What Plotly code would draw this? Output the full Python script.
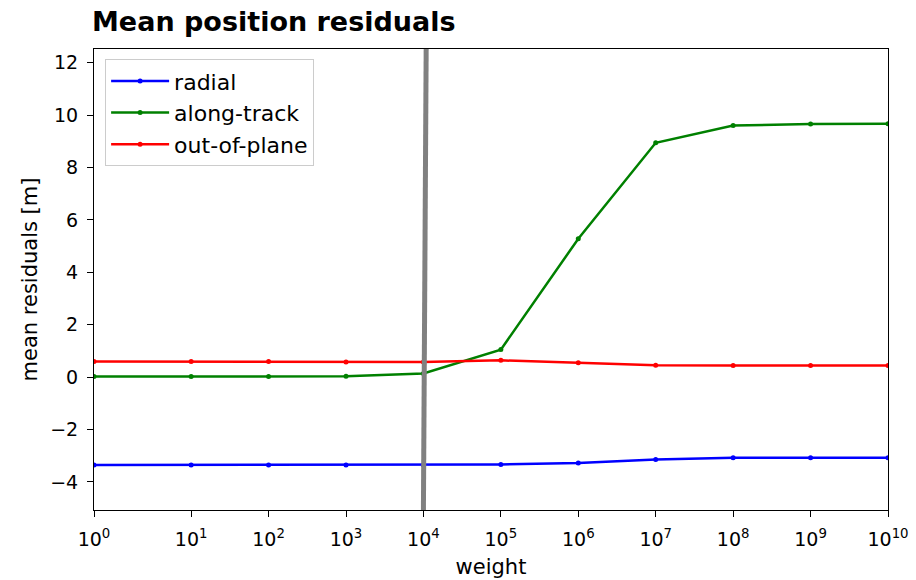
import numpy as np
import plotly.graph_objects as go

# Weights on the horizontal axis (symmetric-log scale)
weights = [1e0, 1e1, 1e2, 1e3, 1e4, 1e5, 1e6, 1e7, 1e8, 1e9, 1e10]
tick_exponents = [0, 1, 2, 3, 4, 5, 6, 7, 8, 9, 10]

# Mean residuals per component [m]
radial = [-3.35, -3.35, -3.35, -3.35, -3.35, -3.33, -3.28, -3.14, -3.08, -3.08, -3.08]
along_track = [0.02, 0.02, 0.02, 0.03, 0.14, 1.05, 5.28, 8.94, 9.60, 9.66, 9.67]
out_of_plane = [0.60, 0.60, 0.60, 0.58, 0.58, 0.64, 0.55, 0.45, 0.44, 0.44, 0.44]

# Chosen weight marker (vertical gray line)
marker_x = [1e4, 1.085e4]
marker_y = [-5.07, 12.52]

y_range = [-5.07, 12.52]
y_ticks = [-4, -2, 0, 2, 4, 6, 8, 10, 12]


def symlog(x, linthresh=2.0, linscale=1.0, base=10.0):
    """Symmetric log transform (linear near zero, logarithmic beyond linthresh)."""
    x = np.asarray(x, dtype=float)
    adj = linscale / (1.0 - 1.0 / base)
    absx = np.abs(x)
    with np.errstate(divide="ignore"):
        out = np.sign(x) * linthresh * (adj + np.log(absx / linthresh) / np.log(base))
    inside = absx <= linthresh
    out[inside] = x[inside] * adj
    return out


xs = symlog(weights)
tick_vals = symlog([10.0 ** k for k in tick_exponents])
tick_text = [f"10<sup>{k}</sup>" for k in tick_exponents]

fig = go.Figure()
for name, vals, color in [
    ("radial", radial, "#0000ff"),
    ("along-track", along_track, "#008000"),
    ("out-of-plane", out_of_plane, "#ff0000"),
]:
    fig.add_trace(go.Scatter(
        x=xs, y=vals, name=name, mode="lines+markers",
        line=dict(color=color, width=2.5),
        marker=dict(color=color, size=5),
    ))

fig.add_trace(go.Scatter(
    x=symlog(marker_x), y=marker_y, mode="lines", showlegend=False,
    line=dict(color="#808080", width=5), hoverinfo="skip",
))

axis_common = dict(
    showline=True, linecolor="black", linewidth=1, mirror=True,
    ticks="outside", ticklen=6, tickwidth=1, tickcolor="black",
    showgrid=False, zeroline=False, automargin=False,
    tickfont=dict(family="DejaVu Sans", size=19, color="black"),
)

fig.update_layout(
    width=916, height=580,
    margin=dict(l=94, r=28, t=49, b=70),
    paper_bgcolor="white", plot_bgcolor="white",
    title=dict(
        text="<b>Mean position residuals</b>",
        font=dict(family="DejaVu Sans", size=27, color="black"),
        xref="container", x=92 / 916, xanchor="left",
        yref="container", y=1 - 22 / 580, yanchor="middle",
    ),
    xaxis=dict(
        range=[float(symlog([1.0])[0]), float(symlog([1e10])[0])],
        tickvals=tick_vals, ticktext=tick_text,
        ticklabelstandoff=6,
        title=dict(text="weight", font=dict(family="DejaVu Sans", size=21, color="black"), standoff=10),
        **axis_common,
    ),
    yaxis=dict(
        range=y_range, tickvals=y_ticks,
        title=dict(text="mean residuals [m]", font=dict(family="DejaVu Sans", size=21, color="black"), standoff=6),
        ticklabelstandoff=5,
        **axis_common,
    ),
    legend=dict(
        x=0.014, y=0.978, xanchor="left", yanchor="top",
        font=dict(family="DejaVu Sans", size=22, color="black"),
        bgcolor="rgba(255,255,255,0.8)", bordercolor="#cccccc", borderwidth=1,
        itemwidth=58,
    ),
)

fig.write_html("out.html")
